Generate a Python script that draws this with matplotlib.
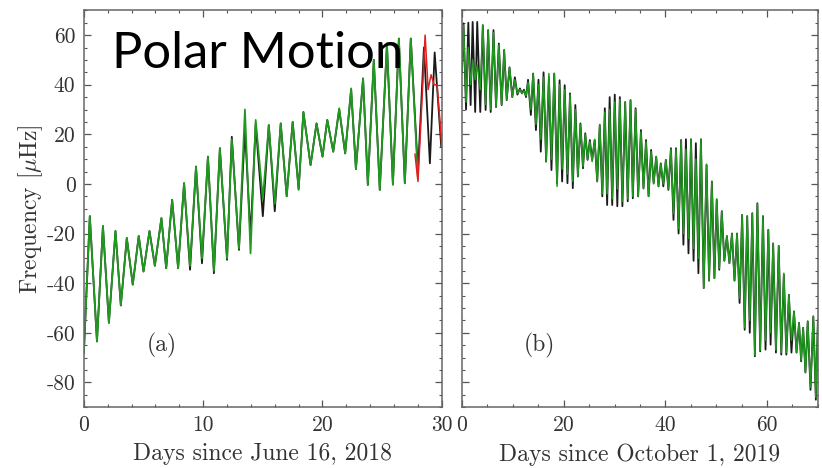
import matplotlib
matplotlib.use("Agg")
import matplotlib.pyplot as plt
import numpy as np
from matplotlib.ticker import MultipleLocator

plt.rcParams['mathtext.fontset'] = 'cm'
plt.rcParams['axes.unicode_minus'] = False

# ---- panel (a): alternating extrema ----
a_day = [0.0, 0.5, 1.1, 1.6, 2.1, 2.65, 3.1, 3.6, 4.1, 4.6, 5.0, 5.5, 5.95, 6.5, 6.9,
         7.4, 7.9, 8.4, 8.9, 9.4, 9.9, 10.4, 10.9, 11.4, 12.0, 12.4, 13.0, 13.5, 13.97,
         14.4, 15.0, 15.5, 16.0, 16.5, 17.0, 17.5, 18.0, 18.4, 19.0, 19.5, 20.0, 20.4,
         20.9, 21.4, 21.9, 22.4, 22.8, 23.4, 23.8, 24.3, 24.8, 25.4, 25.9, 26.4, 26.9,
         27.4, 28.0, 28.5, 29.0, 29.4, 29.95]
a_black = [-68, -13, -63.5, -17, -56, -19, -49, -21.8, -40.6, -21, -35.3, -19, -33, -13.8, -34,
           -6.4, -34, 0.3, -34.6, 7, -32, 11, -36, 14.4, -30.6, 19, -26.6, 22, -21,
           24, -13, 23.7, -11, 24.4, -5, 25, -2, 29, 7.6, 24.4, 11, 25.8,
           13, 30, 12.3, 38, 6, 42.5, -0.4, 50, -2.4, 56, 0, 58.6, 0.3,
           58.6, 5, 55, 8.3, 53, 15]
a_green = [-68, -13, -63.5, -17, -56, -19, -49, -21.8, -40.6, -21, -35.3, -19, -33, -13.8, -34,
           -6.4, -34, 0.3, -33, 7, -30, 11, -35, 14.4, -30, 18, -26, 30, -28,
           25.8, -6, 23.7, -8, 24.4, -5, 25, -2.4, 29, 7.6, 24.4, 11, 25.8,
           13, 30.5, 12.3, 38.5, 6, 42.5, -0.4, 50, -2.4, 56.6, -0.4, 58.6, 0.3,
           58.6, 2]
a_red_day = [27.75, 28.0, 28.3, 28.6, 28.85, 29.1, 29.35, 29.6, 29.85, 30.0]
a_red = [12, 1, 30, 60, 38, 44, 40, 40, 25, 15]

# ---- panel (b) ----
b_day = [0.0, 0.3, 0.8, 1.25, 1.7, 2.1, 2.6, 3.0, 3.6, 4.1, 4.65, 5.15, 5.65, 6.2, 6.7,
         7.25, 7.8, 8.3, 8.8, 9.35, 9.9, 10.4, 10.9, 11.4, 11.8, 12.2, 12.6, 13.0, 13.55,
         14.0, 14.55, 15.05, 15.5, 16.05, 16.55, 17.1, 17.6, 18.15, 18.7, 19.2, 19.7,
         20.2, 20.75, 21.25, 21.8, 22.3, 22.8, 23.3, 23.8, 24.25, 24.7, 25.15, 25.6,
         26.1, 26.6, 27.1, 27.6, 28.1, 28.55, 29.05, 29.55, 30.05, 30.55, 31.05, 31.55,
         32.1, 32.6, 33.15, 33.6, 34.15, 34.65, 35.2, 35.7, 36.2, 36.7, 37.2, 37.7,
         38.2, 38.65, 39.1, 39.6, 40.1, 40.6, 41.1, 41.6, 42.1, 42.6, 43.1, 43.55,
         44.05, 44.55, 45.05, 45.55, 46.0, 46.5, 47.0, 47.55, 48.1, 48.6, 49.15, 49.65,
         50.1, 50.6, 51.1, 51.6, 52.1, 52.6, 53.1, 53.6, 54.1, 54.6, 55.1, 55.6,
         56.1, 56.6, 57.1, 57.6, 58.1, 58.65, 59.2, 59.7, 60.25, 60.7, 61.2, 61.75,
         62.3, 62.8, 63.3, 63.8, 64.3, 64.8, 65.3, 65.8, 66.3, 66.7, 67.1, 67.55,
         68.0, 68.55, 69.1, 69.6, 70.0]
b_black = [45, 64.7, 30, 65, 31.8, 65.3, 29, 65.3, 29, 64, 29.8, 62, 29, 62, 31,
           56.6, 31.8, 54, 33.8, 47, 35, 43, 36, 38.5, 36.5, 38, 35, 42, 27.8,
           44.5, 21.7, 42, 13, 45, 9, 43, 5.6, 44.5, 0.3, 41.8, 1,
           39.8, 0.3, 36.5, -1.7, 31.8, 3, 24.4, 6.3, 20.4, 9.7, 17.7, 9.7,
           17.7, 1, 23.7, -5, 30.5, -8.5, 35, -8.5, 36, -9, 35, -9,
           33, -7, 33.8, -5.8, 30.5, -5, 21.7, -1.7, 17.7, -5, 13.7, 0.3,
           11, -1, 8.3, -1, 9.7, -2.4, 14.4, -14.5, 14.4, -20, 17.7, -24.5,
           18, -28, 18, -31, 16.4, -36, 18, -42, 7.6, -39, 1, -38,
           -6.4, -34.6, -11, -31, -21, -32, -20, -39, -20, -48, -12.5, -58.8,
           -13, -60, -11.8, -69.5, -7.8, -67.5, -13, -66.8, -18.5, -64.8, -24, -68,
           -25, -68.8, -36.6, -68.8, -44.7, -68, -51.4, -68, -56, -71.5, -58, -76,
           -55.4, -83, -53.4, -87, -55]
b_green = [45, 64, 33, 55, 40, 50, 42, 48, 38, 64, 32, 62, 30, 61, 31,
           56, 32, 54, 34, 47, 35, 42, 36.5, 38, 36.5, 37.5, 35.5, 41, 30,
           44.5, 24, 40, 18, 43, 9, 44.5, 10, 44.5, -1, 40, 6,
           38, 4, 36, 1, 30, 3, 24, 7, 20, 10, 17, 9,
           18, 1, 24, -4, 29, -4, 30, -6, 33, -2, 34, -7,
           33, -6, 33.8, -5, 30, -5, 21, -2, 17, -5, 13, 0,
           11, -1, 8, 0, 9.7, -2, 14, -12, 14, -18, 17.7, -20,
           14, -22, 18, -26, 10, -30, 18, -42, 8, -39, 1, -38,
           -6, -34, -11, -31, -21, -32, -20, -39, -20, -46, -12.5, -58,
           -13, -55, -12, -69, -8, -67, -13, -63, -18.5, -60, -24, -67,
           -25, -68, -36, -68, -44.7, -63, -51.4, -68, -56, -71, -58, -76,
           -55.4, -82, -53.4, -86, -55]

y_ticks = [-80, -60, -40, -20, 0, 20, 40, 60]
a_xticks = [0, 10, 20, 30]
b_xticks = [0, 20, 40, 60]

BLACK = '#1a1a1a'
GREEN = '#1f9a1f'
RED = '#e02020'
TXT = '#333333'

fig = plt.figure(figsize=(8.22, 4.68), dpi=100)
axa = fig.add_axes([0.102, 0.130, 0.4355, 0.848])
axb = fig.add_axes([0.562, 0.130, 0.433, 0.848])

axa.plot(a_day, a_black, color=BLACK, lw=1.3)
axa.plot(a_day[:len(a_green)], a_green, color=GREEN, lw=1.3)
axa.plot(a_red_day, a_red, color=RED, lw=1.1)

axb.plot(b_day, b_black, color=BLACK, lw=1.3)
axb.plot(b_day, b_green, color=GREEN, lw=1.1)

for ax, xt, xmax, xminor in [(axa, a_xticks, 30, 2), (axb, b_xticks, 70, 5)]:
    ax.set_xlim(0, xmax)
    ax.set_ylim(-90, 70)
    ax.set_xticks(xt, labels=[str(v) for v in xt])
    ax.set_yticks(y_ticks, labels=[str(v) for v in y_ticks])
    ax.xaxis.set_minor_locator(MultipleLocator(xminor))
    ax.yaxis.set_minor_locator(MultipleLocator(5))
    ax.tick_params(which='both', direction='in', top=True, right=True,
                   color='#555555', labelcolor=TXT, labelsize=15.5, pad=6)
    ax.tick_params(which='major', length=5, width=0.9)
    ax.tick_params(which='minor', length=2.5, width=0.8)
    for s in ax.spines.values():
        s.set_color('#666666')
        s.set_linewidth(1.1)
    for lab in ax.get_xticklabels() + ax.get_yticklabels():
        lab.set_family('cmr10')

axb.tick_params(labelleft=False)

axa.set_xlabel('Days since June 16, 2018', family='cmr10', fontsize=17, color=TXT, labelpad=6)
axb.set_xlabel('Days since October 1, 2019', family='cmr10', fontsize=17, color=TXT, labelpad=6)
axa.set_ylabel(r'Frequency [$\mu$Hz]', family='cmr10', fontsize=17, color=TXT, labelpad=1)

axa.text(6.5, -65, '(a)', family='cmr10', fontsize=17, color=TXT, ha='center', va='center')
axb.text(15.3, -65, '(b)', family='cmr10', fontsize=17, color=TXT, ha='center', va='center')

fig.text(112 / 822, 1 - 68 / 468, 'Polar Motion', family='Lato', fontsize=36.5,
         color='black', ha='left', va='baseline')

fig.savefig('out.png', dpi=100)
